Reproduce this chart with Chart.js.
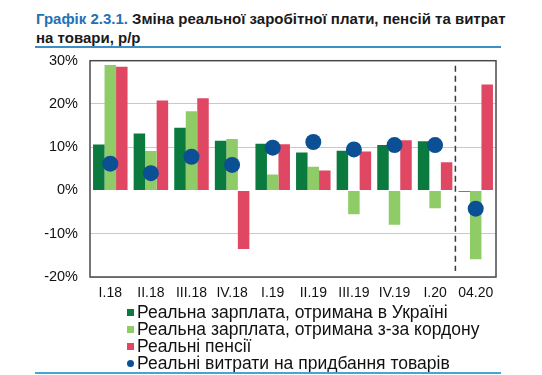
<!DOCTYPE html>
<html><head><meta charset="utf-8">
<script src="https://cdn.jsdelivr.net/npm/chart.js@4.4.1/dist/chart.umd.min.js"></script>
<style>
html,body{margin:0;padding:0;background:#fff;width:542px;height:375px;overflow:hidden;font-family:"Liberation Sans",Arial,sans-serif;}
#title{position:absolute;left:36px;top:9px;width:500px;font-size:15px;font-weight:bold;line-height:19px;color:#1a1a1a;white-space:nowrap;}
#title span{color:#2471b3;}
#rule1{position:absolute;left:35px;top:46px;width:466px;height:2px;background:#3b8fc4;}
#rule2{position:absolute;left:35px;top:372px;width:466px;height:2px;background:#4aa3d6;}
#wrap{position:absolute;left:0;top:40px;width:542px;height:265px;}
#legend{position:absolute;left:127px;top:304px;font-size:17.5px;color:#111;line-height:17px;}
.li{display:flex;align-items:center;white-space:nowrap;height:17px;}
.mk{width:7px;height:7px;margin-right:3px;display:inline-block;}
</style></head><body>
<div id="title"><span>Графік 2.3.1.</span> Зміна реальної заробітної плати, пенсій та витрат<br>на товари, р/р</div>
<div id="rule1"></div>
<div id="wrap"><canvas id="c" width="542" height="265"></canvas></div>
<div id="legend"></div>
<div id="rule2"></div>
<script>
const categories = ["I.18","II.18","III.18","IV.18","I.19","II.19","III.19","IV.19","I.20","04.20"];
const wageUkraine = [10.6, 13.2, 14.5, 11.5, 10.8, 8.8, 9.2, 10.5, 11.4, -0.3];
const wageAbroad  = [29.0, 9.1, 18.3, 11.9, 3.7, 5.5, -5.5, -7.9, -4.1, -15.9];
const pensions    = [28.6, 20.8, 21.3, -13.5, 10.7, 4.6, 9.0, 11.6, 6.5, 24.5];
const spending    = [6.2, 4.0, 7.8, 5.9, 9.9, 11.2, 9.5, 10.5, 10.5, -4.2];
const yTicks = [-20, -10, 0, 10, 20, 30];
const seriesNames = ["Реальна зарплата, отримана в Україні","Реальна зарплата, отримана з-за кордону","Реальні пенсії","Реальні витрати на придбання товарів"];
const splitIndex = 9; // dashed separator before this category

const colors = ["#0b7a3e","#8fcc68","#e04763","#0b4f94"];

const frame = {
  id:'frame',
  afterDatasetsDraw(chart){
    const {ctx, chartArea:a, scales:{x}} = chart;
    ctx.save();
    const sx = (x.getPixelForValue(splitIndex-1)+x.getPixelForValue(splitIndex))/2;
    ctx.strokeStyle='#3a3a3a'; ctx.lineWidth=1.5; ctx.setLineDash([6,4]);
    ctx.beginPath(); ctx.moveTo(sx, a.top+5); ctx.lineTo(sx, a.bottom-6); ctx.stroke();
    ctx.setLineDash([]);
    ctx.strokeStyle='#4a4a4a'; ctx.lineWidth=1.5;
    ctx.strokeRect(a.left, a.top, a.right-a.left, a.bottom-a.top);
    ctx.restore();
  }
};

const chart = new Chart(document.getElementById('c'), {
  type:'bar',
  data:{
    labels:categories,
    datasets:[
      {type:'line', label:seriesNames[3], data:spending, showLine:false, pointRadius:8, pointHoverRadius:8, backgroundColor:colors[3], borderColor:colors[3], pointBorderWidth:0, order:0},
      {label:seriesNames[0], data:wageUkraine, backgroundColor:colors[0], order:1},
      {label:seriesNames[1], data:wageAbroad, backgroundColor:colors[1], order:1},
      {label:seriesNames[2], data:pensions, backgroundColor:colors[2], order:1}
    ]
  },
  options:{
    responsive:false, animation:false,
    layout:{autoPadding:false, padding:{left:0,right:46,top:1,bottom:0}},
    datasets:{bar:{categoryPercentage:0.85, barPercentage:1.0}},
    plugins:{legend:{display:false}, tooltip:{enabled:false}},
    scales:{
      x:{
        grid:{display:false, drawTicks:false},
        border:{display:false},
        ticks:{color:'#111', font:{family:'"Liberation Sans", Arial', size:14}, padding:8, maxRotation:0, autoSkip:false},
        afterFit(s){ s.height = 28; }
      },
      y:{
        min:-20, max:30,
        afterBuildTicks(s){ s.ticks = yTicks.map(v=>({value:v})); },
        grid:{drawTicks:false, color:(c)=> c.tick && c.tick.value===0 ? 'rgba(0,0,0,0)' : '#c9c9c9', lineWidth:1},
        border:{display:false},
        ticks:{color:'#111', font:{family:'"Liberation Sans", Arial', size:14.5}, padding:12, callback:v=>v+'%'},
        afterFit(s){ s.width = 90; }
      }
    }
  },
  plugins:[frame]
});

const lg = document.getElementById('legend');
[1,2,3,0].forEach((di,i)=>{
  const d = chart.data.datasets[di];
  const row = document.createElement('div'); row.className='li';
  const m = document.createElement('span'); m.className='mk'; m.style.background=d.backgroundColor;
  if (d.type==='line') m.style.borderRadius='50%';
  row.appendChild(m);
  row.appendChild(document.createTextNode(d.label));
  lg.appendChild(row);
});
</script>
</body></html>
